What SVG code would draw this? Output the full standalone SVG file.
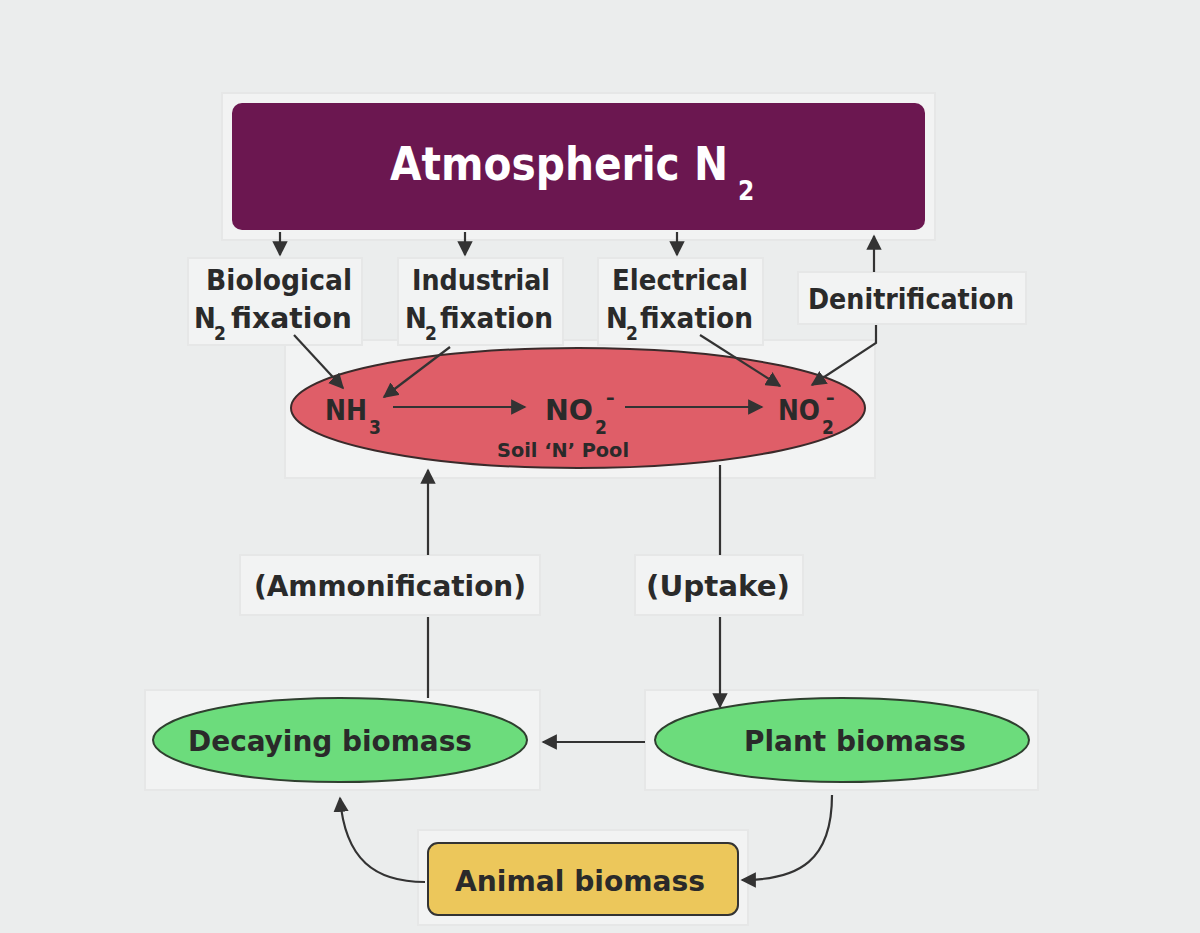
<svg xmlns="http://www.w3.org/2000/svg" width="1200" height="933" viewBox="0 0 1200 933">
<defs>
<style>
text{font-family:"Liberation Sans Narrow","DejaVu Sans Condensed","Liberation Sans",sans-serif;font-weight:bold;fill:#2a2a2a;text-anchor:middle}
.lb{font-size:29px}
.s{text-anchor:start}
.sub{font-size:19px}
.c{stroke:#333;stroke-width:2.2;fill:none}
.bx{fill:#f2f3f3;stroke:#e6e7e7;stroke-width:2}
</style>
<marker id="a" viewBox="0 0 10 10" refX="9" refY="5" markerWidth="7" markerHeight="7" orient="auto-start-reverse"><path d="M0,0 L10,5 L0,10 z" fill="#333"/></marker>
</defs>
<rect width="1200" height="933" fill="#ebeded"/>
<rect x="222" y="93" width="713" height="147" class="bx"/>
<rect x="285" y="340" width="590" height="138" class="bx"/>
<rect x="188" y="258" width="174" height="87" class="bx"/>
<rect x="398" y="258" width="165" height="87" class="bx"/>
<rect x="598" y="258" width="165" height="87" class="bx"/>
<rect x="798" y="272" width="228" height="52" class="bx"/>
<rect x="240" y="555" width="300" height="60" class="bx"/>
<rect x="635" y="555" width="168" height="60" class="bx"/>
<rect x="145" y="690" width="395" height="100" class="bx"/>
<rect x="645" y="690" width="393" height="100" class="bx"/>
<rect x="418" y="830" width="330" height="95" class="bx"/>
<g id="atm"><rect x="232" y="103" width="693" height="127" rx="10" fill="#6b1750"/>
<text x="390" y="180" class="s" textLength="338" lengthAdjust="spacingAndGlyphs" style="font-size:46px;fill:#fff">Atmospheric N</text><text x="738" y="200" class="s" style="font-size:26px;fill:#fff">2</text></g>
<g id="bio"><text x="206" y="290" class="s" textLength="146" lengthAdjust="spacingAndGlyphs" style="font-size:29px">Biological</text><text x="194" y="328" class="s lb">N</text><text x="214" y="340" class="s sub">2</text><text x="231" y="328" class="s lb" textLength="121" lengthAdjust="spacingAndGlyphs">fixation</text></g>
<g id="ind"><text x="412" y="290" class="s lb" textLength="138" lengthAdjust="spacingAndGlyphs">Industrial</text><text x="405" y="328" class="s lb">N</text><text x="425" y="340" class="s sub">2</text><text x="440" y="328" class="s lb" textLength="113" lengthAdjust="spacingAndGlyphs">fixation</text></g>
<g id="ele"><text x="612" y="290" class="s lb" textLength="136" lengthAdjust="spacingAndGlyphs">Electrical</text><text x="606" y="328" class="s lb">N</text><text x="626" y="340" class="s sub">2</text><text x="640" y="328" class="s lb" textLength="113" lengthAdjust="spacingAndGlyphs">fixation</text></g>
<g id="den"><text x="808" y="309" class="s lb" textLength="206" lengthAdjust="spacingAndGlyphs">Denitrification</text></g>
<g id="soil"><ellipse cx="578" cy="408" rx="287" ry="60" fill="#df5e68" stroke="#3a2a2a" stroke-width="2"/>
<text x="325" y="420" class="s lb" textLength="42" lengthAdjust="spacingAndGlyphs">NH</text><text x="369" y="434" class="s sub">3</text>
<text x="545" y="420" class="s lb" textLength="48" lengthAdjust="spacingAndGlyphs">NO</text><text x="595" y="434" class="s sub">2</text><text x="606" y="404" class="s sub">–</text>
<text x="778" y="420" class="s lb" textLength="42" lengthAdjust="spacingAndGlyphs">NO</text><text x="822" y="434" class="s sub">2</text><text x="826" y="404" class="s sub">–</text>
<text x="563" y="457" style="font-size:20px" textLength="132" lengthAdjust="spacingAndGlyphs">Soil ‘N’ Pool</text></g>
<g id="amm"><text x="390" y="596" class="lb" textLength="272" lengthAdjust="spacingAndGlyphs">(Ammonification)</text></g>
<g id="upt"><text x="718" y="596" class="lb" textLength="144" lengthAdjust="spacingAndGlyphs">(Uptake)</text></g>
<g id="dec"><ellipse cx="340" cy="740" rx="187" ry="42" fill="#6cdc7c" stroke="#2f3f2f" stroke-width="2"/><text x="330" y="751" class="lb" textLength="284" lengthAdjust="spacingAndGlyphs">Decaying biomass</text></g>
<g id="pla"><ellipse cx="842" cy="740" rx="187" ry="42" fill="#6cdc7c" stroke="#2f3f2f" stroke-width="2"/><text x="855" y="751" class="lb" textLength="222" lengthAdjust="spacingAndGlyphs">Plant biomass</text></g>
<g id="ani"><rect x="428" y="843" width="310" height="72" rx="10" fill="#ecc75b" stroke="#333" stroke-width="2"/><text x="580" y="891" class="lb" textLength="250" lengthAdjust="spacingAndGlyphs">Animal biomass</text></g>
<g id="connectors">
<path class="c" d="M280,232 V255" marker-end="url(#a)"/>
<path class="c" d="M465,232 V255" marker-end="url(#a)"/>
<path class="c" d="M677,232 V255" marker-end="url(#a)"/>
<path class="c" d="M874,272 V236" marker-end="url(#a)"/>
<path class="c" d="M876,325 V343 L812,385" marker-end="url(#a)"/>
<path class="c" d="M294,335 L343,388" marker-end="url(#a)"/>
<path class="c" d="M450,347 L384,397" marker-end="url(#a)"/>
<path class="c" d="M700,335 L780,386" marker-end="url(#a)"/>
<path class="c" d="M393,407 H525" marker-end="url(#a)"/>
<path class="c" d="M625,407 H762" marker-end="url(#a)"/>
<path class="c" d="M428,555 V470" marker-end="url(#a)"/>
<path class="c" d="M428,698 V617"/>
<path class="c" d="M720,465 V555"/>
<path class="c" d="M720,617 V707" marker-end="url(#a)"/>
<path class="c" d="M645,742 H543" marker-end="url(#a)"/>
<path class="c" d="M832,795 C832,860 800,880 742,880" marker-end="url(#a)"/>
<path class="c" d="M425,882 C375,882 345,860 340,798" marker-end="url(#a)"/>
</g>
</svg>
